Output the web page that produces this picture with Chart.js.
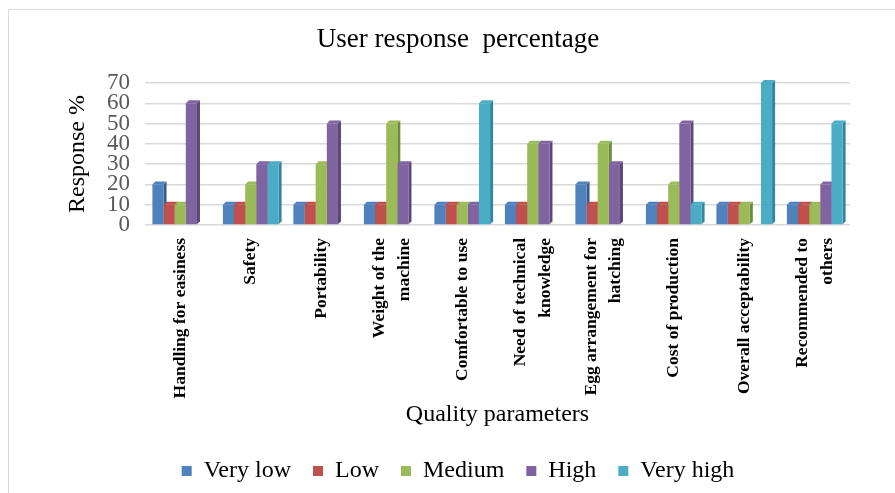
<!DOCTYPE html>
<html>
<head>
<meta charset="utf-8">
<script src="https://cdn.jsdelivr.net/npm/chart.js@4/dist/chart.umd.min.js"></script>
<style>
    html, body { margin: 0; padding: 0; background: #fff; }
    .frame { position: absolute; left: 8px; top: 9px; right: 0; bottom: 0; border-top: 1px solid #d9d9d9; border-left: 1px solid #d9d9d9; }
    .wrap { position: absolute; left: 0; top: 0; width: 895px; height: 493px; }
</style>
</head>
<body>
<div class="frame"></div>
<div class="wrap"><canvas id="chart" width="895" height="493"></canvas></div>
<script>
const categories = [
    'Handling for easiness',
    'Safety',
    'Portability',
    ['Weight of the', 'machine'],
    'Comfortable to use',
    ['Need of technical', 'knowledge'],
    ['Egg arrangement for', 'hatching'],
    'Cost of production',
    'Overall acceptability',
    ['Recommended to', 'others']
];

const veryLow  = [20, 10, 10, 10, 10, 10, 20, 10, 10, 10];
const low      = [10, 10, 10, 10, 10, 10, 10, 10, 10, 10];
const medium   = [10, 20, 30, 50, 10, 40, 40, 20, 10, 10];
const high     = [60, 30, 50, 30, 10, 40, 30, 50, 0, 20];
const veryHigh = [0, 30, 0, 0, 60, 0, 0, 10, 70, 50];

const yTicks = [0, 10, 20, 30, 40, 50, 60, 70];

const serif = '"Liberation Serif", "Times New Roman", serif';

// front / side colours, office style
const series = [
    { label: 'Very low',  data: veryLow,  color: '#4f81bd', side: '#385d8a' },
    { label: 'Low',       data: low,      color: '#c0504d', side: '#8c3836' },
    { label: 'Medium',    data: medium,   color: '#9bbb59', side: '#71893f' },
    { label: 'High',      data: high,     color: '#8064a2', side: '#5c4776' },
    { label: 'Very high', data: veryHigh, color: '#4bacc6', side: '#31859c' }
];

// draws a small side + top face behind each bar for the 3D look
const depthPlugin = {
    id: 'depth',
    beforeDatasetsDraw(chart) {
        const ctx = chart.ctx;
        const d = 3;
        ctx.save();
        chart.data.datasets.forEach((ds, i) => {
            const meta = chart.getDatasetMeta(i);
            meta.data.forEach((bar, j) => {
                if (!ds.data[j]) return;
                const { x, y, base, width } = bar.getProps(['x', 'y', 'base', 'width'], true);
                const l = x - width / 2, r = x + width / 2;
                ctx.fillStyle = series[i].side;
                ctx.beginPath();
                ctx.moveTo(r, y);
                ctx.lineTo(r + d, y - d);
                ctx.lineTo(r + d, base - d);
                ctx.lineTo(r, base);
                ctx.closePath();
                ctx.fill();
                ctx.fillStyle = series[i].color;
                ctx.beginPath();
                ctx.moveTo(l, y);
                ctx.lineTo(l + d, y - d);
                ctx.lineTo(r + d, y - d);
                ctx.lineTo(r, y);
                ctx.closePath();
                ctx.fill();
            });
        });
        ctx.restore();
    }
};

// center two-line rotated labels on their tick
const centerLabels = {
    id: 'centerLabels',
    beforeDraw(chart) {
        const items = chart.scales.x.getLabelItems();
        items.forEach(it => {
            if (Array.isArray(it.label) && !it._shifted) {
                it.options.translation[0] -= (it.label.length - 1) * it.font.lineHeight / 2;
                it._shifted = true;
            }
        });
    }
};

new Chart(document.getElementById('chart'), {
    type: 'bar',
    data: {
        labels: categories,
        datasets: series.map(s => ({
            label: s.label,
            data: s.data,
            backgroundColor: s.color,
            borderWidth: 0,
            categoryPercentage: 0.79,
            barPercentage: 1
        }))
    },
    options: {
        responsive: false,
        animation: false,
        layout: { padding: { left: 66, right: 45, top: 13, bottom: 0 } },
        plugins: {
            title: {
                display: true,
                text: 'User response  percentage',
                color: '#000',
                font: { family: serif, size: 27, weight: 'normal', lineHeight: 1.2 },
                padding: { top: 11, bottom: 26.6 }
            },
            legend: {
                position: 'bottom',
                labels: {
                    color: '#000',
                    boxWidth: 10,
                    boxHeight: 10,
                    padding: 10,
                    font: { family: serif, size: 24 },
                    generateLabels(chart) {
                        const items = Chart.defaults.plugins.legend.labels.generateLabels(chart);
                        items.forEach((it, i) => { if (i < items.length - 1) it.text += '\u2002'; });
                        return items;
                    }
                }
            },
            tooltip: { enabled: false }
        },
        scales: {
            x: {
                grid: { display: false },
                border: { display: false },
                ticks: {
                    autoSkip: false,
                    minRotation: 90,
                    maxRotation: 90,
                    padding: 5,
                    color: '#000',
                    font: { family: serif, size: 17.5, weight: 'bold', lineHeight: 1.4 }
                },
                title: {
                    display: true,
                    text: 'Quality parameters',
                    color: '#000',
                    font: { family: serif, size: 24, lineHeight: 1 },
                    padding: { top: 0, bottom: 22 }
                },
                afterFit(scale) { scale.height = 224; }
            },
            y: {
                min: 0,
                max: 70,
                afterBuildTicks(scale) { scale.ticks = yTicks.map(v => ({ value: v })); },
                grid: { color: '#d9d9d9', lineWidth: 1.5, drawTicks: false },
                border: { display: false },
                ticks: {
                    autoSkip: false,
                    padding: 15,
                    color: '#595959',
                    font: { family: serif, size: 23 }
                },
                title: {
                    display: true,
                    text: 'Response %',
                    color: '#000',
                    font: { family: serif, size: 24, lineHeight: 1 },
                    padding: { top: 0, bottom: 0 }
                },
                afterFit(scale) { scale.width = 79; }
            }
        }
    },
    plugins: [depthPlugin, centerLabels]
});
</script>
</body>
</html>
